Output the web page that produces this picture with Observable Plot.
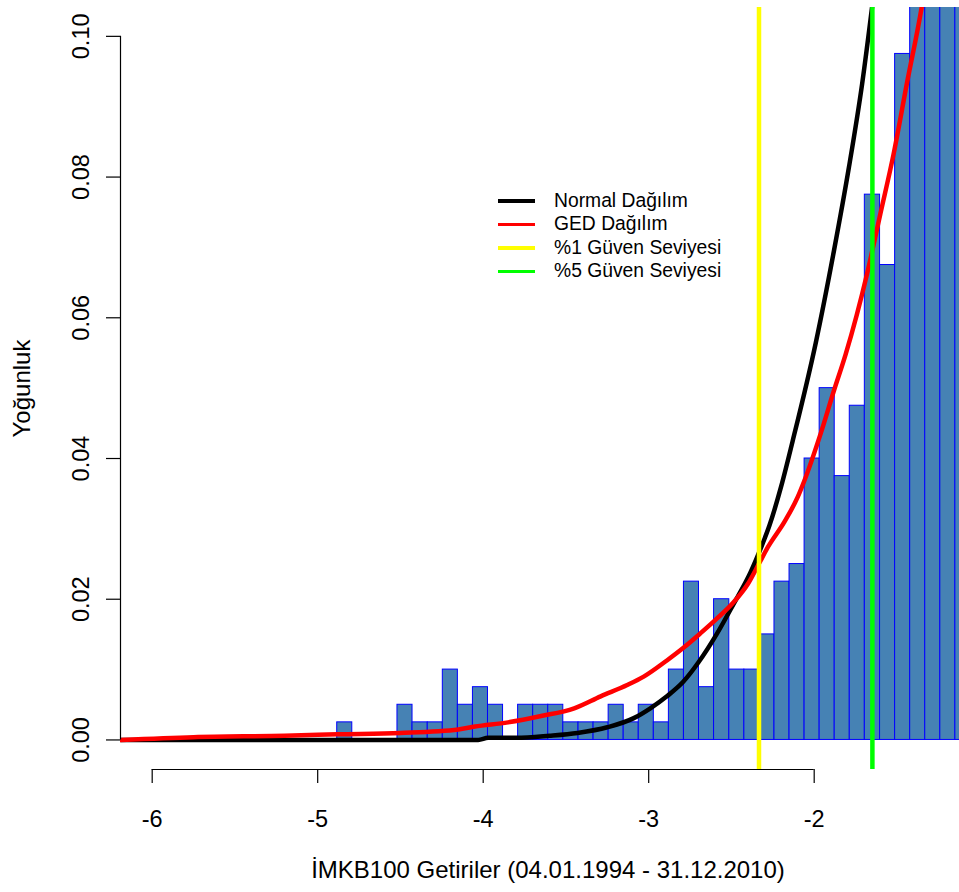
<!DOCTYPE html>
<html><head><meta charset="utf-8">
<script src="https://cdn.jsdelivr.net/npm/d3@7"></script>
<script src="https://cdn.jsdelivr.net/npm/@observablehq/plot@0.6"></script>
<style>
body{margin:0;background:#fff;}
#wrap{position:relative;width:959px;height:892px;overflow:hidden;font-family:"Liberation Sans",Arial,sans-serif;}
#legend{position:absolute;left:498px;top:189px;font-size:19.3px;color:#000;}
.row{display:flex;align-items:center;height:23.5px;white-space:nowrap;}
.sw{width:37px;height:3.5px;margin-right:19px;}
</style></head><body><div id="wrap"><div id="chart"></div><div id="legend"></div></div>
<script>
// Histogram bin edges and densities
const binEdges = [-4.882, -4.791, -4.700, -4.609, -4.518, -4.427, -4.335, -4.244, -4.153, -4.062,
  -3.971, -3.880, -3.789, -3.698, -3.607, -3.516, -3.424, -3.333, -3.242, -3.151,
  -3.060, -2.969, -2.878, -2.787, -2.696, -2.605, -2.513, -2.422, -2.331, -2.240,
  -2.149, -2.058, -1.967, -1.876, -1.785, -1.694, -1.602, -1.511, -1.420, -1.329,
  -1.238, -1.147, -1.056];
const densities = [0.0025, 0, 0, 0, 0.005, 0.0025, 0.0025, 0.01, 0.005, 0.0075,
  0.005, 0, 0.005, 0.005, 0.005, 0.0025, 0.0025, 0.0025, 0.005, 0.0025,
  0.005, 0.0025, 0.01, 0.0225, 0.0075, 0.02, 0.01, 0.01, 0.015, 0.0225,
  0.025, 0.04, 0.05, 0.0375, 0.0475, 0.0775, 0.0675, 0.0975, 0.115, 0.13,
  0.145, 0.16];

// Normal density curve
const normalX = [-6.19, -4.03, -3.97, -3.80, -3.60, -3.43, -3.25, -3.09, -2.99, -2.89, -2.79, -2.70, -2.59, -2.49, -2.385, -2.32, -2.27, -2.20, -2.13, -1.99, -1.88, -1.79, -1.71, -1.65, -1.58];
const normalY = [0, 0, 0.0003, 0.0003, 0.0006, 0.001, 0.0018, 0.0031, 0.0045, 0.0062, 0.0083, 0.0110, 0.0150, 0.0192, 0.0238, 0.0274, 0.0305, 0.036, 0.0425, 0.0565, 0.0696, 0.0814, 0.0933, 0.1042, 0.118];

// GED density curve
const gedX = [-6.19, -5.75, -5.2, -4.88, -4.5, -4.15, -4.05, -3.85, -3.65, -3.45, -3.29, -3.13, -3.03, -2.89, -2.79, -2.69, -2.59, -2.49, -2.40, -2.335, -2.28, -2.18, -2.10, -2.06, -1.96, -1.88, -1.81, -1.68, -1.60, -1.52, -1.44, -1.35, -1.28];
const gedY = [0, 0.0004, 0.0006, 0.0008, 0.001, 0.0015, 0.0019, 0.0025, 0.0034, 0.0045, 0.0062, 0.0078, 0.0090, 0.0113, 0.0131, 0.0151, 0.0172, 0.0195, 0.0222, 0.0250, 0.0274, 0.0310, 0.0345, 0.0368, 0.0436, 0.0497, 0.0548, 0.0663, 0.0748, 0.0833, 0.0933, 0.1042, 0.115];

// VaR levels
const var1 = -2.3335;
const var5 = -1.6483;

const xTicks = [-6, -5, -4, -3, -2];
const yTicks = [0, 0.02, 0.04, 0.06, 0.08, 0.10];
const xDomain = [-6.1915, -1.122];
const yDomain = [-0.0042, 0.1041];

const legendLabels = ["Normal Dağılım", "GED Dağılım", "%1 Güven Seviyesi", "%5 Güven Seviyesi"];
const legendColors = ["#000000", "#FF0000", "#FFFF00", "#00FF00"];

const bars = densities.map((d, i) => ({x1: binEdges[i], x2: binEdges[i + 1], density: d}));
const normalData = normalX.map((x, i) => ({x, y: normalY[i]}));
const gedData = gedX.map((x, i) => ({x, y: gedY[i]}));

const font = '"Liberation Sans", Arial, sans-serif';

const chart = Plot.plot({
  width: 959,
  height: 892,
  marginLeft: 120,
  marginRight: 0,
  marginTop: 7,
  marginBottom: 123,
  x: {domain: xDomain},
  y: {domain: yDomain},
  style: {fontFamily: font, background: "white", color: "black"},
  marks: [
    Plot.rectY(bars, {x1: "x1", x2: "x2", y: "density", fill: "#4682B4", stroke: "#0000FF", strokeWidth: 1, clip: true}),
    Plot.line(normalData, {x: "x", y: "y", stroke: "#000000", strokeWidth: 4.5, curve: "monotone-x", clip: true}),
    Plot.line(gedData, {x: "x", y: "y", stroke: "#FF0000", strokeWidth: 4.5, curve: "monotone-x", clip: true}),
    Plot.ruleX([var1], {stroke: "#FFFF00", strokeWidth: 4.5}),
    Plot.ruleX([var5], {stroke: "#00FF00", strokeWidth: 4.5}),
    // y axis
    Plot.ruleX([xDomain[0]], {y1: yTicks[0], y2: yTicks[yTicks.length - 1], stroke: "#000", strokeWidth: 1.2}),
    Plot.axisY({ticks: yTicks, tickSize: 14, tickFormat: () => "", label: null, stroke: "#000", strokeWidth: 1.2}),
    Plot.text(yTicks, {y: d => d, text: d => d.toFixed(2), frameAnchor: "left", textAnchor: "middle", lineAnchor: "middle", dx: -39, rotate: -90, fontSize: 23.5, fill: "#000"}),
    // x axis
    Plot.ruleY([yDomain[0]], {x1: xTicks[0], x2: xTicks[xTicks.length - 1], stroke: "#000", strokeWidth: 1.2}),
    Plot.axisX({ticks: xTicks, tickSize: 14, tickFormat: () => "", label: null, stroke: "#000", strokeWidth: 1.2}),
    Plot.text(xTicks, {x: d => d, text: d => String(d), frameAnchor: "bottom", textAnchor: "middle", lineAnchor: "middle", dy: 50, fontSize: 23.5, fill: "#000"}),
    // titles
    Plot.text(["Yoğunluk"], {frameAnchor: "left", textAnchor: "middle", lineAnchor: "middle", dx: -98, rotate: -90, fontSize: 24, fill: "#000"}),
    Plot.text(["İMKB100 Getiriler (04.01.1994 - 31.12.2010)"], {frameAnchor: "bottom", textAnchor: "middle", lineAnchor: "middle", dx: 8, dy: 101, fontSize: 24, fill: "#000"})
  ]
});
document.getElementById("chart").appendChild(chart);

const legend = document.getElementById("legend");
legendLabels.forEach((lab, i) => {
  const row = document.createElement("div");
  row.className = "row";
  const sw = document.createElement("div");
  sw.className = "sw";
  sw.style.background = legendColors[i];
  const t = document.createElement("span");
  t.textContent = lab;
  row.appendChild(sw);
  row.appendChild(t);
  legend.appendChild(row);
});
</script>
</body></html>
